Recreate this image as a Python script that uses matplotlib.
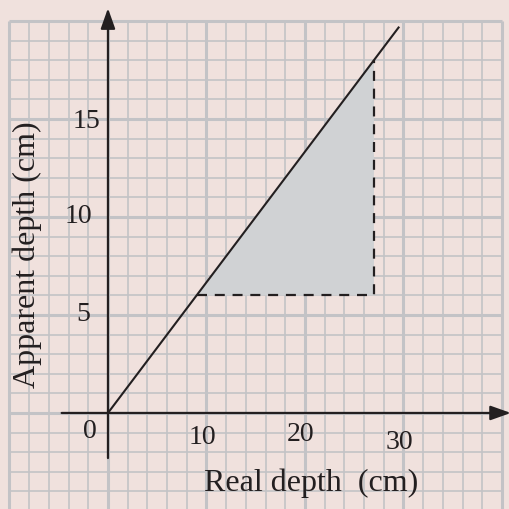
"""
Real depth vs apparent depth graph on squared paper.
"""

import matplotlib.pyplot as plt
import numpy as np

# Data
real_depth = [0, 29.5]
apparent_depth = [0, 29.5 / 1.5]
tri_x = [9, 27, 27]
tri_y = [6, 18, 6]
x_ticks = [0, 10, 20, 30]
y_ticks = [5, 10, 15]

bg = '#f0e1dd'
grid_col = '#c3c3c6'
ink = '#231f20'
font = 'Liberation Serif'

fig = plt.figure(figsize=(5.09, 5.09), dpi=100, facecolor=bg)
ax = fig.add_axes([0, 0, 1, 1])
ax.set_facecolor(bg)
ax.set_xlim(-10.96, 40.71)
ax.set_ylim(-4.9, 21.07)
ax.axis('off')

# Squared paper: minor every 2 cm (x) / 1 cm (y), major every 10 / 5
gx0, gx1, gy0, gy1 = -10, 40, -6, 20
for xv in np.arange(gx0, gx1 + 1, 2):
    lw = 2.2 if xv % 10 == 0 else 1.2
    ax.plot([xv, xv], [gy0, gy1], color=grid_col, lw=lw, zorder=1, solid_capstyle='butt')
for yv in np.arange(gy0, gy1 + 1, 1):
    lw = 2.2 if yv % 5 == 0 else 1.2
    ax.plot([gx0, gx1], [yv, yv], color=grid_col, lw=lw, zorder=1, solid_capstyle='butt')

# Shaded triangle
ax.fill(tri_x, tri_y, color='#d0d2d4', zorder=2, lw=0)

# Dashed construction lines
ax.plot([tri_x[0], tri_x[2], tri_x[1]], [tri_y[0], tri_y[2], tri_y[1]],
        color=ink, lw=1.6, ls=(0, (4.5, 3.5)), zorder=3)

# Graph line
ax.plot(real_depth, apparent_depth, color=ink, lw=1.5, zorder=4)

# Axes with arrows
arrow = dict(arrowstyle='-|>,head_length=0.62,head_width=0.22', color=ink, lw=1.6,
             shrinkA=0, shrinkB=0, mutation_scale=20)
ax.annotate('', xy=(40.9, 0), xytext=(-4.7, 0), arrowprops=arrow, zorder=5,
            annotation_clip=False)
ax.annotate('', xy=(0, 20.65), xytext=(0, -2.3), arrowprops=arrow, zorder=5,
            annotation_clip=False)

# Tick labels
ax.text(-1.8, -0.95, '0', ha='center', va='center', fontsize=20, family=font, color=ink)
tick_dy = {10: -1.25, 20: -1.1, 30: -1.5}
for xv in x_ticks[1:]:
    ax.text(xv - 0.4, tick_dy[xv], str(xv), ha='center', va='center', fontsize=20,
            family=font, color=ink)
tick_dx = {5: -1.8, 10: -1.6, 15: -0.8}
for yv in y_ticks:
    ax.text(tick_dx[yv], yv - 0.15 if yv == 15 else yv, str(yv), ha='right',
            va='center', fontsize=20, family=font, color=ink)

# Axis titles
ax.text(20.6, -3.6, 'Real depth  (cm)', ha='center', va='center', fontsize=23,
        family=font, color=ink)
ax.text(-8.2, 8.1, 'Apparent depth (cm)', ha='center', va='center', rotation=90,
        fontsize=23, family=font, color=ink)

fig.savefig('out.png', dpi=100, facecolor=bg)
